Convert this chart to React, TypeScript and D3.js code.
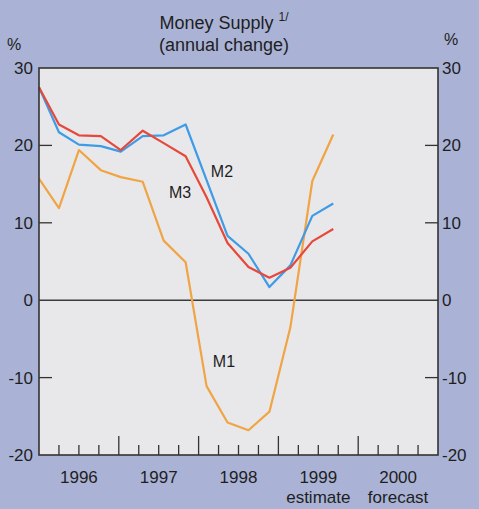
import * as d3 from "d3";
import { useEffect, useRef } from "react";

// positions in quarters from the start of 1996
const quarterPos = [0, 1.0, 2.0, 3.1, 4.1, 5.2, 6.25, 7.35, 8.4, 9.45, 10.5, 11.55, 12.6, 13.7, 14.75];
const m1 = [15.7, 11.9, 19.4, 16.8, 15.9, 15.3, 7.7, 4.9, -11.1, -15.8, -16.8, -14.4, -3.5, 15.4, 21.4];
const m2 = [27.5, 21.7, 20.1, 19.9, 19.2, 21.2, 21.3, 22.7, 15.5, 8.3, 6.0, 1.7, 4.5, 10.9, 12.5];
const m3 = [27.5, 22.7, 21.3, 21.2, 19.4, 21.9, 20.3, 18.6, 13.3, 7.4, 4.3, 2.9, 4.2, 7.6, 9.2];

const years = ["1996", "1997", "1998", "1999", "2000"];
const yearNotes = ["", "", "", "estimate", "forecast"];
const yTicks = [30, 20, 10, 0, -10, -20];
const innerTicks = [20, 10, -10];

const seriesNames = ["M1", "M2", "M3"];
const seriesColors = ["#f0a444", "#3f9be6", "#e6493a"];
// label anchor in data units: [quarter, value]
const labelPos: [number, number][] = [
  [9.27, -7.9],
  [9.17, 16.6],
  [7.07, 13.9],
];

export default function App() {
  const ref = useRef<SVGSVGElement>(null);

  useEffect(() => {
    const width = 479;
    const height = 509;
    const left = 39;
    const right = 438;
    const top = 68;
    const bottom = 455;
    const font = "'Liberation Sans', Arial, sans-serif";

    const svg = d3.select(ref.current);
    svg.selectAll("*").remove();

    svg.append("rect").attr("width", width).attr("height", height).attr("fill", "#aab3d6");

    const x = d3.scaleLinear().domain([0, 20]).range([left, right]);
    const y = d3.scaleLinear().domain([-20, 30]).range([bottom, top]);

    // plot panel
    svg
      .append("rect")
      .attr("x", left)
      .attr("y", top)
      .attr("width", right - left)
      .attr("height", bottom - top)
      .attr("fill", "#e8e8ea");

    // title
    const title = svg
      .append("text")
      .attr("x", 224)
      .attr("y", 29)
      .attr("text-anchor", "middle")
      .attr("font-family", font)
      .attr("font-size", 18)
      .attr("fill", "#1e1e1e");
    title.append("tspan").text("Money Supply ");
    title.append("tspan").attr("font-size", 12).attr("dy", -8).text("1/");
    svg
      .append("text")
      .attr("x", 224)
      .attr("y", 51)
      .attr("text-anchor", "middle")
      .attr("font-family", font)
      .attr("font-size", 18)
      .attr("fill", "#1e1e1e")
      .text("(annual change)");

    svg
      .append("text")
      .attr("x", 14)
      .attr("y", 50)
      .attr("text-anchor", "middle")
      .attr("font-family", font)
      .attr("font-size", 16)
      .attr("fill", "#1e1e1e")
      .text("%");
    svg
      .append("text")
      .attr("x", 451)
      .attr("y", 45)
      .attr("text-anchor", "middle")
      .attr("font-family", font)
      .attr("font-size", 16)
      .attr("fill", "#1e1e1e")
      .text("%");

    // y tick labels both sides
    const yl = svg.append("g").attr("font-family", font).attr("font-size", 17).attr("fill", "#1e1e1e");
    yl.selectAll("text.l")
      .data(yTicks)
      .join("text")
      .attr("class", "l")
      .attr("x", left - 6)
      .attr("y", (d) => y(d))
      .attr("dy", "0.35em")
      .attr("text-anchor", "end")
      .text((d) => d);
    yl.selectAll("text.r")
      .data(yTicks)
      .join("text")
      .attr("class", "r")
      .attr("x", right + 4)
      .attr("y", (d) => y(d))
      .attr("dy", "0.35em")
      .attr("text-anchor", "start")
      .text((d) => d);

    // inner y ticks
    const tg = svg.append("g").attr("stroke", "#333").attr("stroke-width", 1.3);
    tg.selectAll("line.l")
      .data(innerTicks)
      .join("line")
      .attr("class", "l")
      .attr("x1", left)
      .attr("x2", left + 13)
      .attr("y1", (d) => y(d))
      .attr("y2", (d) => y(d));
    tg.selectAll("line.r")
      .data(innerTicks)
      .join("line")
      .attr("class", "r")
      .attr("x1", right)
      .attr("x2", right - 13)
      .attr("y1", (d) => y(d))
      .attr("y2", (d) => y(d));

    // quarter ticks on the bottom axis
    tg.selectAll("line.q")
      .data(d3.range(1, 20))
      .join("line")
      .attr("class", "q")
      .attr("x1", (d) => x(d))
      .attr("x2", (d) => x(d))
      .attr("y1", bottom)
      .attr("y2", (d) => bottom - (d % 4 === 0 ? 19 : 10));

    // zero line
    svg
      .append("line")
      .attr("x1", left)
      .attr("x2", right)
      .attr("y1", y(0))
      .attr("y2", y(0))
      .attr("stroke", "#3a3a3a")
      .attr("stroke-width", 1.6);

    // series
    const series = [m1, m2, m3];
    const line = d3
      .line<number>()
      .x((_, i) => x(quarterPos[i]))
      .y((d) => y(d));
    svg
      .append("g")
      .attr("fill", "none")
      .attr("stroke-width", 2.2)
      .attr("stroke-linejoin", "round")
      .selectAll("path")
      .data(series)
      .join("path")
      .attr("stroke", (_, i) => seriesColors[i])
      .attr("d", (d) => line(d));

    svg
      .append("g")
      .attr("font-family", font)
      .attr("font-size", 16)
      .attr("fill", "#1e1e1e")
      .attr("text-anchor", "middle")
      .selectAll("text")
      .data(seriesNames)
      .join("text")
      .attr("x", (_, i) => x(labelPos[i][0]))
      .attr("y", (_, i) => y(labelPos[i][1]))
      .attr("dy", "0.35em")
      .text((d) => d);

    // frame
    svg
      .append("rect")
      .attr("x", left)
      .attr("y", top)
      .attr("width", right - left)
      .attr("height", bottom - top)
      .attr("fill", "none")
      .attr("stroke", "#333")
      .attr("stroke-width", 1.6);

    // year labels
    const xl = svg.append("g").attr("font-family", font).attr("font-size", 17).attr("fill", "#1e1e1e").attr("text-anchor", "middle");
    xl.selectAll("text.y")
      .data(years)
      .join("text")
      .attr("class", "y")
      .attr("x", (_, i) => x(i * 4 + 2))
      .attr("y", 483)
      .text((d) => d);
    xl.selectAll("text.n")
      .data(yearNotes)
      .join("text")
      .attr("class", "n")
      .attr("x", (_, i) => x(i * 4 + 2))
      .attr("y", 503)
      .text((d) => d);
  }, []);

  return (
    <svg
      ref={ref}
      width={479}
      height={509}
      style={{ position: "fixed", left: 0, top: 0, display: "block" }}
    />
  );
}
